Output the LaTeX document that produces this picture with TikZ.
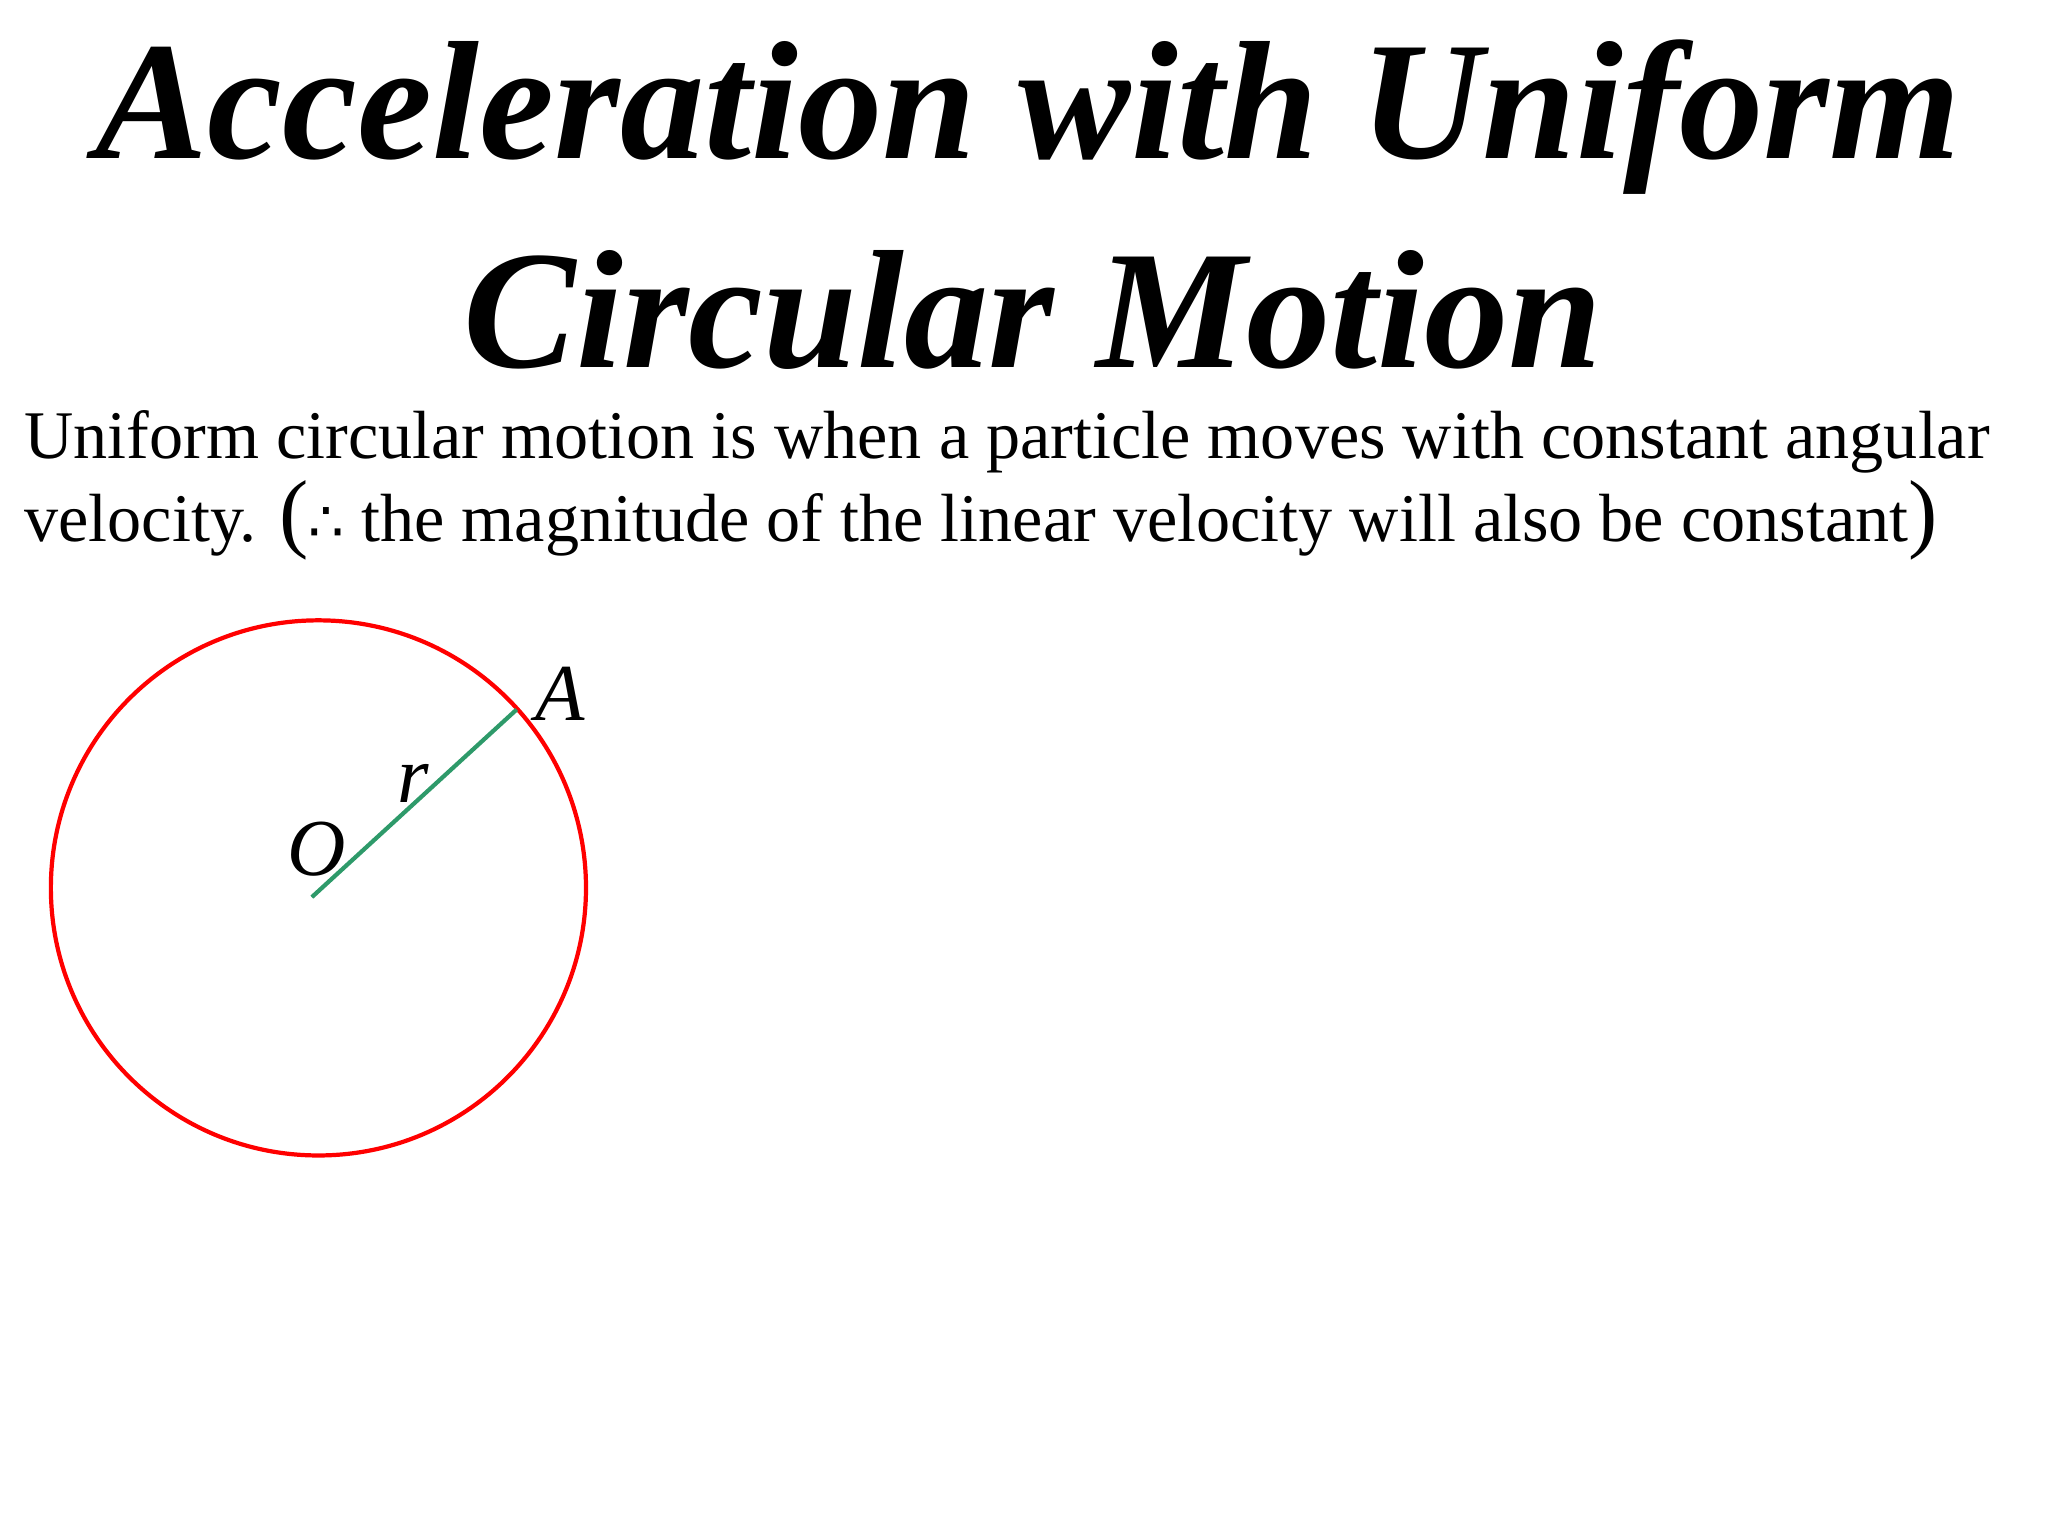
\documentclass[tikz,border=0pt]{standalone}
\usepackage{fontspec}
\setmainfont{Liberation Serif}
\newfontfamily\symfont{DejaVu Sans}
\definecolor{rad}{HTML}{2E9A6A}
\begin{document}
\begin{tikzpicture}[x=0.013213cm,y=-0.013213cm,
  lbl/.style={font=\fontsize{23pt}{28pt}\selectfont\itshape,inner sep=0pt},
  body/.style={font=\fontsize{19.4pt}{24pt}\selectfont,inner sep=0pt,anchor=base west},
  ttl/.style={font=\fontsize{48pt}{58pt}\selectfont\bfseries\itshape,inner sep=0pt,anchor=base}]
\useasboundingbox (0,0) rectangle (1550,1162);
\node[ttl] (t1) at (778,120) {Acceleration with Uniform};
\node[ttl] (t2) at (782,278) {Circular Motion};
\node[body] (b1) at (18,347) {Uniform circular motion is when a particle moves with constant angular};
\node[body] (b2) at (18,410) {velocity. {\fontsize{25pt}{28pt}\selectfont(}{\symfont\fontsize{16pt}{20pt}\selectfont∴} the magnitude of the linear velocity will also be constant{\fontsize{25pt}{28pt}\selectfont)}};
\node[draw=red,line width=1.2pt,circle,minimum size=405*0.013213cm,inner sep=0pt] (c) at (241,672) {};
\coordinate (O) at (236,679);
\coordinate (A) at (391,537);
\draw[rad,line width=1.2pt] (O) -- (A);
\node[lbl] (la) at (424,525) {A};
\node[lbl] (lr) at (313,593) {r};
\node[lbl] (lo) at (240,643) {O};
\end{tikzpicture}
\end{document}
